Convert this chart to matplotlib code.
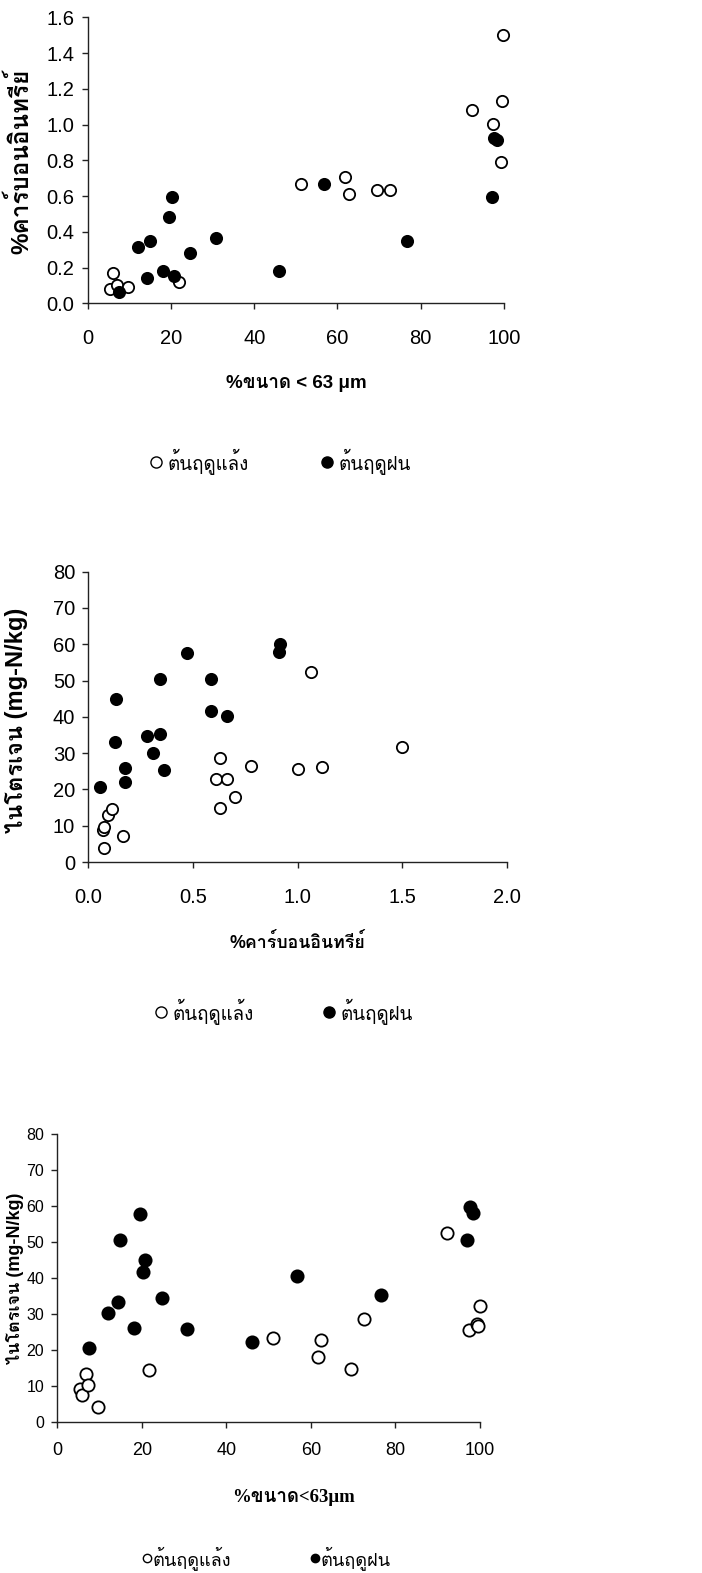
import matplotlib
matplotlib.use("Agg")
import matplotlib.pyplot as plt
from matplotlib import font_manager
from matplotlib.ft2font import FT2Font
from matplotlib.lines import Line2D

# ---------------- data ----------------
# Panel A: % fine fraction (<63 um) vs % organic carbon
a_dry_x = [6.0, 5.4, 7.0, 9.6, 21.9, 51.2, 61.8, 62.7, 69.4, 72.6, 92.3, 97.4, 99.8, 99.6, 99.2]
a_dry_y = [0.172, 0.078, 0.103, 0.090, 0.117, 0.666, 0.709, 0.614, 0.636, 0.636, 1.080, 1.003, 1.501, 1.132, 0.789]
a_wet_x = [7.4, 12.0, 15.0, 14.2, 18.2, 19.5, 20.2, 20.8, 24.5, 30.8, 46.0, 56.8, 76.6, 97.0, 97.6, 98.3]
a_wet_y = [0.062, 0.315, 0.349, 0.140, 0.181, 0.481, 0.595, 0.155, 0.282, 0.364, 0.181, 0.666, 0.349, 0.595, 0.925, 0.912]

# Panel B: % organic carbon vs nitrogen (mg-N/kg)
b_dry_x = [0.076, 0.072, 0.076, 0.092, 0.112, 0.167, 0.609, 0.629, 0.629, 0.661, 0.700, 0.779, 1.002, 1.119, 1.066, 1.501]
b_dry_y = [3.8, 8.8, 9.7, 12.9, 14.5, 7.3, 23.0, 28.7, 15.0, 23.0, 18.0, 26.5, 25.5, 26.1, 52.4, 31.7]
b_wet_x = [0.056, 0.134, 0.129, 0.177, 0.175, 0.280, 0.308, 0.343, 0.341, 0.360, 0.473, 0.588, 0.588, 0.661, 0.910, 0.918]
b_wet_y = [20.6, 44.8, 33.2, 26.0, 22.0, 34.7, 30.1, 50.4, 35.2, 25.4, 57.5, 50.4, 41.7, 40.2, 57.9, 60.1]

# Panel C: % fine fraction (<63 um) vs nitrogen (mg-N/kg)
c_dry_x = [5.4, 5.9, 6.9, 7.2, 9.7, 21.7, 51.1, 62.5, 61.6, 69.4, 72.5, 92.2, 97.3, 99.4, 99.6, 99.9]
c_dry_y = [9.0, 7.4, 13.3, 10.1, 4.1, 14.5, 23.2, 22.8, 18.0, 14.8, 28.5, 52.5, 25.4, 27.2, 26.5, 32.1]
c_wet_x = [7.4, 12.0, 14.3, 14.8, 18.1, 19.6, 20.8, 20.3, 24.7, 30.8, 46.1, 56.6, 76.5, 96.9, 97.6, 98.4]
c_wet_y = [20.4, 30.2, 33.2, 50.5, 26.0, 57.7, 44.9, 41.7, 34.4, 25.7, 22.1, 40.5, 35.3, 50.6, 59.9, 58.0]

a_xticks = [0, 20, 40, 60, 80, 100]
a_yticks = [0.0, 0.2, 0.4, 0.6, 0.8, 1.0, 1.2, 1.4, 1.6]
b_xticks = [0.0, 0.5, 1.0, 1.5, 2.0]
b_yticks = [0, 10, 20, 30, 40, 50, 60, 70, 80]
c_xticks = [0, 20, 40, 60, 80, 100]
c_yticks = [0, 10, 20, 30, 40, 50, 60, 70, 80]

series_labels = ["ต้นฤดูแล้ง", "ต้นฤดูฝน"]
label_fine = "%ขนาด < 63 μm"
label_fine_c = "%ขนาด<63μm"
label_oc = "%คาร์บอนอินทรีย์"
label_n = "ไนโตรเจน (mg-N/kg)"

# ---------------- fonts ----------------
installed = {f.name for f in font_manager.fontManager.ttflist}


def fonts_having(ch):
    found = []
    for f in font_manager.fontManager.ttflist:
        if f.name in found:
            continue
        try:
            if ord(ch) in FT2Font(f.fname).get_charmap():
                found.append(f.name)
        except Exception:
            pass
    return found


thai_fonts = fonts_having("ค")
thai = thai_fonts[:2] if thai_fonts else []
sans = "Liberation Sans Narrow" if "Liberation Sans Narrow" in installed else "Liberation Sans"
SANS = [sans] + thai + ["DejaVu Sans"]
BOLD = ["Liberation Sans"] + thai + ["DejaVu Sans"]
SERIF = ["Liberation Serif"] + thai + ["DejaVu Serif"]

W, H = 702, 1573
fig = plt.figure(figsize=(W / 100, H / 100), dpi=100)


def px_axes(left, right, top, bottom):
    return fig.add_axes([left / W, 1 - bottom / H, (right - left) / W, (bottom - top) / H])


def ftext(x, y, s, **kw):
    fig.text(x / W, 1 - y / H, s, **kw)


def style(ax, xticks, yticks, xfmt, yfmt, xsize, ysize, xpad, ypad=5):
    for side in ("top", "right"):
        ax.spines[side].set_visible(False)
    for side in ("left", "bottom"):
        ax.spines[side].set_color("#222222")
        ax.spines[side].set_linewidth(1.0)
    ax.set_xlim(xticks[0], xticks[-1])
    ax.set_ylim(yticks[0], yticks[-1])
    ax.set_xticks(xticks)
    ax.set_yticks(yticks)
    ax.set_xticklabels([xfmt.format(v) for v in xticks], family=SANS, fontsize=xsize)
    ax.set_yticklabels([yfmt.format(v) for v in yticks], family=SANS, fontsize=ysize)
    ax.tick_params(direction="out", length=4.5, width=1.0, color="#222222")
    ax.tick_params(axis="x", pad=xpad)
    ax.tick_params(axis="y", pad=ypad)


def points(ax, xs, ys, filled, size):
    ax.scatter(xs, ys, s=size, marker="o",
               facecolor="black" if filled else "white",
               edgecolor="black", linewidth=1.3, clip_on=False, zorder=3)


def legend_row(y, xo, xf, fs, ms, family, gap=8):
    fig.add_artist(Line2D([xo / W], [1 - y / H], marker="o", markersize=ms,
                          markerfacecolor="white", markeredgecolor="black",
                          markeredgewidth=1.0, linestyle="none"))
    ftext(xo + gap, y, series_labels[0], ha="left", va="center", fontsize=fs, family=family)
    fig.add_artist(Line2D([xf / W], [1 - y / H], marker="o", markersize=ms,
                          markerfacecolor="black", markeredgecolor="black",
                          linestyle="none"))
    ftext(xf + gap, y, series_labels[1], ha="left", va="center", fontsize=fs, family=family)


# ---- panel A ----
ax1 = px_axes(87.7, 504.0, 17.3, 303.3)
points(ax1, a_dry_x, a_dry_y, False, 66)
points(ax1, a_wet_x, a_wet_y, True, 66)
style(ax1, a_xticks, a_yticks, "{:d}", "{:.1f}", 14.5, 14.5, xpad=14)
ftext(20, 161, label_oc, rotation=90, ha="center", va="center",
      fontsize=17.5, fontweight="bold", family=BOLD)
ftext(296, 384, label_fine, ha="center", va="center",
      fontsize=13.5, fontweight="bold", family=BOLD)
legend_row(462, 156, 327, 13.5, 8, SANS, gap=12)

# ---- panel B ----
ax2 = px_axes(88.3, 506.7, 571.7, 862.0)
points(ax2, b_dry_x, b_dry_y, False, 66)
points(ax2, b_wet_x, b_wet_y, True, 66)
style(ax2, b_xticks, b_yticks, "{:.1f}", "{:d}", 14.5, 14.5, xpad=14)
ftext(17, 720, label_n, rotation=90, ha="center", va="center",
      fontsize=17, fontweight="bold", family=BOLD)
ftext(297.5, 942, label_oc, ha="center", va="center",
      fontsize=12.8, fontweight="bold", family=BOLD)
legend_row(1012, 161, 329, 13.5, 8, SANS, gap=12)

# ---- panel C ----
ax3 = px_axes(57.3, 480.0, 1134.3, 1421.7)
points(ax3, c_dry_x, c_dry_y, False, 78)
points(ax3, c_wet_x, c_wet_y, True, 78)
style(ax3, c_xticks, c_yticks, "{:d}", "{:d}", 13, 11.5, xpad=10)
ftext(15, 1278, label_n, rotation=90, ha="center", va="center",
      fontsize=13, fontweight="bold", family=BOLD)
ftext(294, 1497, label_fine_c, ha="center", va="center",
      fontsize=13.5, fontweight="bold", family=SERIF)
legend_row(1558, 147, 315, 13, 6, SANS, gap=6)

fig.savefig("out.png", dpi=100, facecolor="white")
